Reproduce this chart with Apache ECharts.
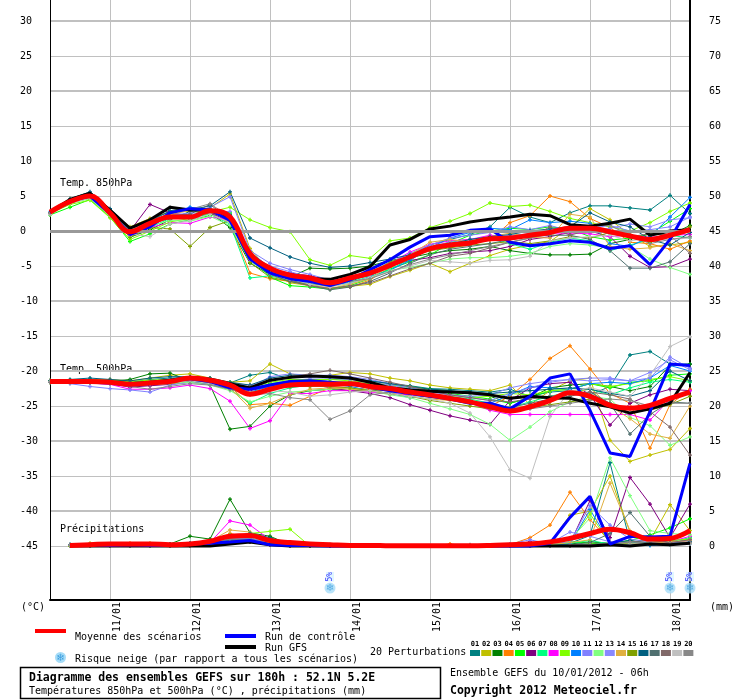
<!DOCTYPE html>
<html lang="fr">
<head>
<meta charset="UTF-8">
<title>Diagramme des ensembles GEFS</title>
<script src="https://cdn.jsdelivr.net/npm/echarts@6/dist/echarts.min.js"></script>
<style>
    html, body { margin: 0; padding: 0; background: #fff; }
    #main { width: 740px; height: 700px; }
</style>
</head>
<body>
<div id="main"></div>
<script>
    // pas de temps (6h) du run GEFS du 10/01/2012 06h
    var timeSteps = ['10/01 06h','10/01 12h','10/01 18h','11/01 00h','11/01 06h','11/01 12h','11/01 18h',
        '12/01 00h','12/01 06h','12/01 12h','12/01 18h','13/01 00h','13/01 06h','13/01 12h','13/01 18h',
        '14/01 00h','14/01 06h','14/01 12h','14/01 18h','15/01 00h','15/01 06h','15/01 12h','15/01 18h',
        '16/01 00h','16/01 06h','16/01 12h','16/01 18h','17/01 00h','17/01 06h','17/01 12h','17/01 18h',
        '18/01 00h','18/01 06h'];

    var leftTicks = [-45,-40,-35,-30,-25,-20,-15,-10,-5,0,5,10,15,20,25,30];
    var rightTicks = [0,5,10,15,20,25,30,35,40,45,50,55,60,65,70,75];
    var thinLines = [-45,-35,-25,-15,-5,5,15,25];
    var thickLines = [-40,-30,-20,-10,10,20,30];

    var memberColors = ['#008080','#c0c000','#008000','#ff8000','#00ff00','#800080','#00ff80','#ff00ff',
        '#80ff00','#0080ff','#8080ff','#80ff80','#8888ff','#e0b040','#80a000','#006080',
        '#507070','#806868','#c0c0c0','#888888'];
    var memberNames = ['01','02','03','04','05','06','07','08','09','10','11','12','13','14','15','16','17','18','19','20'];

    // température 850hPa (°C)
    var t850Mean = [2.7,4.2,5.0,2.6,-0.1,1.1,2.0,2.0,2.9,2.0,-3.2,-5.3,-6.3,-6.7,-7.4,-6.7,-6.0,-4.9,-3.7,-2.5,-2.0,-1.7,-1.1,-1.0,-0.6,-0.2,0.4,0.4,-0.1,-0.7,-1.2,-0.6,0.2];
    var t850Gfs = [2.7,4.5,5.4,3.0,0.4,1.6,3.4,3.0,3.0,1.8,-3.5,-5.5,-6.3,-6.8,-6.9,-6.2,-5.1,-2.0,-1.2,0.3,0.7,1.3,1.7,2.0,2.4,2.2,0.9,0.7,1.1,1.7,-0.6,0.0,0.2];
    var t850Control = [2.7,4.3,5.0,2.5,-0.5,0.6,2.6,3.2,3.0,1.5,-4.0,-6.0,-6.8,-7.2,-7.8,-7.0,-5.5,-4.1,-2.3,-0.8,-0.6,0.1,0.3,-1.6,-2.1,-1.8,-1.4,-1.6,-2.5,-2.1,-4.8,-1.2,3.8];
    var t850Members = [
        [2.5,4.4,5.2,3.0,0.3,1.4,2.9,3.3,3.2,2.4,-3.3,-5.4,-6.5,-7.0,-7.6,-7.2,-6.2,-4.8,-3.5,-2.0,-1.2,-0.5,0.6,3.4,2.0,1.2,2.6,3.6,3.6,3.3,3.0,5.1,2.5],
        [2.6,4.6,5.1,2.9,0.6,1.8,2.7,2.9,3.3,5.3,-2.5,-5.8,-7.4,-7.8,-8.2,-7.9,-7.6,-6.5,-5.6,-4.6,-5.8,-4.6,-3.5,-2.6,-2.0,-1.5,0.5,3.2,1.6,-0.5,-2.2,-2.0,-1.6],
        [2.4,4.0,4.8,2.3,-0.9,0.2,1.6,2.8,2.6,0.5,-4.6,-6.2,-6.6,-5.3,-5.4,-5.3,-5.0,-4.2,-3.8,-3.2,-2.8,-2.6,-2.2,-2.8,-3.2,-3.4,-3.4,-3.3,-1.8,-1.2,-0.4,-0.6,0.8],
        [2.6,4.3,4.9,2.5,0.0,0.9,2.4,2.2,2.4,1.2,-6.0,-6.8,-7.2,-7.8,-8.2,-8.0,-7.0,-5.2,-3.8,-2.6,-1.6,-1.8,-1.3,1.2,2.2,5.0,4.2,1.8,0.5,-1.6,-1.8,-2.6,-1.4],
        [2.3,3.4,4.5,2.0,-1.5,-0.4,1.0,1.6,2.2,2.6,-3.8,-6.6,-7.8,-8.0,-8.3,-7.8,-6.8,-5.4,-4.4,-3.4,-1.8,-0.6,0.0,0.4,0.2,0.6,0.3,-0.8,-1.3,-1.0,-0.4,1.4,3.2],
        [2.5,4.2,5.0,2.4,0.0,3.8,2.6,2.2,2.6,1.4,-4.2,-5.6,-6.0,-6.4,-7.0,-6.8,-6.4,-5.0,-4.2,-3.8,-3.2,-3.0,-2.8,-2.2,-1.2,-0.8,-0.2,0.0,-0.8,-3.6,-5.2,-5.1,-4.0],
        [2.4,4.0,4.7,2.6,-0.4,0.5,1.8,1.9,2.4,1.0,-6.7,-6.4,-7.1,-7.5,-7.9,-7.3,-6.5,-5.5,-4.0,-2.6,-1.5,-1.2,-0.9,-1.8,-2.6,-1.6,-1.0,-1.4,-2.8,-2.0,-1.2,-0.6,-1.0],
        [2.6,4.1,4.7,2.2,-0.6,0.5,1.2,1.1,2.0,1.6,-3.8,-5.8,-6.6,-7.2,-7.6,-7.0,-6.2,-4.6,-3.0,-1.9,-1.4,-1.2,-0.6,-0.8,-0.4,-0.3,-0.3,-0.4,-0.8,-0.6,-0.9,-0.6,-0.5],
        [2.5,3.8,4.4,1.9,-1.2,0.0,1.3,1.8,2.7,3.4,1.6,0.5,-0.1,-4.1,-4.9,-3.5,-3.9,-1.4,-1.0,0.5,1.4,2.5,4.0,3.5,3.7,2.8,1.8,1.2,0.6,0.0,1.2,2.8,4.0],
        [2.7,4.5,5.0,2.8,0.1,1.0,2.5,3.4,3.1,2.2,-3.0,-5.2,-6.4,-7.2,-7.8,-7.4,-6.6,-5.6,-4.2,-2.4,-1.0,-0.2,0.4,0.2,1.6,1.2,1.4,1.1,-1.8,-2.2,-0.8,2.0,4.8],
        [2.6,4.4,5.1,2.7,0.0,1.2,2.2,2.6,3.4,4.9,-2.8,-4.6,-5.5,-6.2,-7.0,-6.9,-6.0,-4.6,-3.2,-2.0,-1.0,-0.6,-0.2,0.6,0.2,0.8,0.0,0.4,0.8,0.0,0.2,0.6,2.0],
        [2.4,4.0,4.6,2.1,-0.8,0.7,1.5,1.4,2.1,0.8,-4.4,-6.0,-6.8,-7.4,-7.9,-7.5,-6.8,-5.6,-5.2,-4.6,-4.0,-3.8,-3.8,-3.6,-3.2,-2.2,-1.8,-2.0,-2.4,-2.2,-4.0,-5.2,-6.2],
        [2.5,4.3,4.9,2.6,-0.2,1.2,1.9,2.4,2.7,2.8,-3.6,-5.0,-5.8,-6.6,-7.2,-6.9,-6.3,-4.8,-3.4,-2.2,-1.6,-1.4,-1.0,-0.6,-0.4,0.2,0.3,0.2,0.4,1.0,0.6,1.6,1.9],
        [2.6,4.2,4.8,2.4,-0.3,1.2,2.4,2.9,2.8,1.4,-3.5,-6.2,-7.2,-7.6,-8.2,-7.6,-6.8,-5.0,-3.4,-1.6,-1.2,-1.6,-0.8,-0.3,-0.9,-1.0,2.4,2.0,-2.2,-2.6,-2.4,-1.8,-2.8],
        [2.4,4.1,4.8,2.2,-0.9,0.5,0.3,-2.2,0.5,1.5,-4.5,-6.6,-7.2,-7.6,-7.9,-7.0,-6.0,-4.4,-3.6,-2.8,-2.4,-2.0,-1.8,-1.5,-1.8,-1.4,-0.8,-1.0,-0.2,-0.6,-1.6,-0.8,0.6],
        [2.6,4.6,5.6,3.2,0.4,1.6,2.8,3.0,3.6,5.6,-1.0,-2.4,-3.7,-4.6,-5.2,-5.0,-4.5,-4.0,-3.4,-2.6,-1.9,-1.2,-0.8,-0.5,0.0,0.3,0.6,2.6,1.3,0.6,-1.2,-2.0,-0.2],
        [2.5,4.3,5.0,2.6,0.0,0.8,2.2,2.4,3.8,1.6,-4.0,-6.2,-7.2,-7.8,-8.4,-8.0,-7.2,-6.0,-4.6,-3.4,-2.6,-2.2,-1.8,-1.2,-0.8,-0.6,-0.6,-1.2,-2.8,-5.3,-5.3,-4.4,-1.8],
        [2.5,4.2,4.9,2.5,-0.1,1.0,1.8,2.1,2.6,1.8,-3.4,-5.8,-7.0,-7.8,-8.2,-7.8,-7.4,-6.4,-5.4,-4.6,-3.6,-3.2,-2.4,-1.6,-1.0,0.6,-0.6,0.2,-0.4,-0.8,-0.4,-0.6,-3.2],
        [2.4,4.0,4.7,2.3,-0.4,-0.8,1.0,1.5,2.4,1.2,-4.0,-6.0,-6.8,-7.6,-8.0,-7.4,-6.6,-5.8,-5.0,-4.2,-4.4,-4.6,-4.2,-4.1,-3.6,-1.4,-1.0,-0.8,-0.6,-1.4,-1.0,-1.2,-1.0],
        [2.6,4.5,5.2,2.9,0.2,1.4,3.4,3.1,3.9,2.0,-3.6,-5.4,-6.4,-7.0,-7.4,-7.2,-6.8,-5.8,-4.8,-4.0,-3.4,-2.8,-2.2,-1.6,-1.0,-0.4,0.2,0.8,0.8,-0.6,-1.8,-1.2,-0.8]
    ];

    // température 500hPa (°C)
    var t500Mean = [-21.5,-21.5,-21.5,-21.6,-21.9,-21.7,-21.5,-21.0,-21.3,-22.0,-23.3,-22.6,-22.0,-21.9,-21.9,-21.8,-22.2,-22.5,-23.0,-23.4,-23.9,-24.4,-25.1,-25.7,-25.1,-24.2,-23.1,-23.6,-24.9,-25.3,-24.9,-23.9,-23.0];
    var t500Gfs = [-21.5,-21.5,-21.5,-21.6,-21.8,-21.6,-21.3,-20.9,-21.2,-21.8,-22.4,-21.3,-20.9,-20.7,-20.8,-21.0,-21.6,-22.4,-22.7,-22.9,-23.0,-23.1,-23.4,-23.9,-23.6,-23.8,-23.9,-24.6,-25.1,-26.0,-25.4,-24.6,-20.2];
    var t500Control = [-21.5,-21.6,-21.6,-21.7,-22.0,-21.8,-21.4,-21.1,-21.5,-22.4,-22.6,-22.0,-21.5,-21.4,-21.6,-21.8,-22.3,-22.8,-23.2,-23.6,-24.0,-24.6,-24.6,-25.4,-23.6,-21.0,-20.4,-25.6,-31.7,-32.2,-25.8,-19.0,-19.2];
    var t500Members = [
        [-21.4,-21.3,-21.2,-21.3,-21.6,-21.2,-21.0,-20.9,-21.2,-21.7,-20.6,-20.2,-21.2,-21.4,-21.2,-21.1,-21.4,-21.8,-22.1,-22.5,-22.6,-22.8,-23.0,-22.6,-23.6,-23.0,-22.8,-23.4,-22.2,-17.7,-17.2,-19.0,-19.0],
        [-21.5,-21.6,-21.3,-21.2,-21.4,-21.0,-20.6,-20.4,-21.0,-21.6,-21.4,-19.0,-20.4,-20.8,-20.6,-20.2,-20.4,-21.0,-21.4,-22.0,-22.4,-22.6,-22.8,-22.0,-24.8,-22.8,-21.4,-21.0,-29.9,-32.9,-32.0,-31.2,-28.2],
        [-21.5,-21.4,-21.4,-21.5,-21.2,-20.4,-20.3,-21.4,-22.0,-28.3,-27.9,-25.0,-23.4,-22.8,-22.6,-22.8,-22.8,-22.6,-22.4,-22.6,-22.8,-23.2,-23.6,-24.6,-23.8,-22.4,-22.0,-21.8,-22.2,-22.8,-22.2,-19.2,-19.0],
        [-21.4,-21.4,-21.6,-21.5,-21.8,-21.6,-21.4,-21.2,-21.6,-22.2,-24.8,-24.6,-24.9,-23.6,-22.4,-22.4,-22.6,-22.8,-23.2,-23.8,-24.0,-24.4,-25.0,-23.6,-21.2,-18.2,-16.4,-19.7,-23.2,-24.6,-31.0,-24.8,-22.6],
        [-21.6,-21.5,-21.6,-21.7,-21.9,-21.8,-21.6,-21.4,-21.6,-22.2,-22.6,-21.8,-21.4,-21.4,-21.6,-21.6,-21.8,-22.0,-22.2,-22.6,-23.2,-23.6,-24.0,-24.6,-23.8,-22.8,-22.6,-21.8,-22.4,-21.6,-21.4,-20.6,-20.4],
        [-21.5,-21.6,-21.5,-21.8,-22.3,-22.1,-21.9,-21.6,-21.8,-22.4,-22.8,-22.2,-21.8,-21.8,-22.4,-22.8,-23.2,-23.8,-24.8,-25.6,-26.4,-27.0,-27.6,-24.2,-22.4,-21.8,-21.6,-23.4,-27.7,-24.6,-23.4,-22.6,-22.8],
        [-21.5,-21.4,-21.5,-21.6,-21.8,-21.6,-21.4,-21.2,-21.8,-22.6,-24.6,-23.2,-22.4,-22.0,-21.8,-22.0,-22.2,-22.6,-23.0,-23.2,-23.6,-24.0,-24.6,-25.2,-24.4,-23.6,-23.0,-22.6,-23.4,-22.4,-21.6,-21.2,-21.6],
        [-21.6,-21.6,-21.7,-21.9,-22.6,-22.6,-22.4,-22.0,-22.5,-24.3,-28.2,-27.1,-23.2,-23.2,-22.8,-22.8,-23.0,-23.2,-23.4,-23.6,-24.0,-24.6,-25.6,-26.2,-26.2,-26.2,-26.2,-26.2,-26.2,-26.2,-27.0,-24.0,-22.8],
        [-21.4,-21.3,-21.2,-21.4,-21.5,-21.3,-21.2,-21.0,-21.4,-21.6,-22.4,-21.6,-21.2,-21.2,-21.2,-21.4,-21.6,-22.0,-22.4,-22.8,-23.4,-23.8,-23.6,-23.2,-23.4,-22.8,-22.6,-21.8,-22.2,-21.8,-21.2,-20.8,-21.4],
        [-21.5,-21.6,-21.6,-21.7,-22.0,-21.9,-21.6,-21.4,-21.8,-22.6,-23.0,-22.2,-21.6,-21.6,-21.8,-22.2,-22.8,-23.2,-23.8,-23.6,-24.0,-24.4,-24.6,-23.4,-22.2,-22.4,-22.6,-21.8,-21.6,-21.8,-21.0,-19.2,-20.0],
        [-21.5,-21.8,-22.2,-22.5,-22.7,-23.0,-22.0,-21.6,-21.8,-22.4,-22.4,-20.8,-20.4,-20.6,-20.6,-20.8,-21.2,-21.8,-22.4,-22.8,-23.4,-23.8,-24.2,-23.2,-22.4,-21.6,-21.2,-21.0,-21.0,-21.4,-21.0,-18.0,-19.6],
        [-21.6,-21.6,-21.7,-21.8,-22.0,-21.9,-21.8,-21.6,-22.0,-22.8,-24.4,-23.6,-23.0,-22.8,-22.6,-22.4,-22.8,-23.4,-23.8,-24.6,-25.4,-26.2,-27.6,-29.9,-28.0,-25.8,-24.4,-23.6,-24.0,-26.6,-27.8,-30.6,-29.4],
        [-21.5,-21.5,-21.6,-21.6,-21.8,-21.6,-21.2,-21.0,-21.4,-21.8,-22.0,-21.4,-20.8,-21.0,-21.0,-21.2,-21.6,-22.0,-22.6,-23.0,-23.4,-23.6,-23.4,-22.4,-21.8,-21.4,-21.2,-21.4,-21.2,-21.4,-20.2,-18.4,-19.8],
        [-21.5,-21.4,-21.5,-21.6,-21.8,-21.6,-21.4,-21.2,-21.6,-22.4,-25.3,-24.6,-23.4,-22.6,-22.4,-22.6,-22.8,-23.2,-23.6,-24.0,-24.2,-24.6,-24.8,-25.2,-25.0,-24.4,-23.6,-22.4,-25.0,-26.8,-29.0,-29.6,-25.0],
        [-21.6,-21.6,-21.6,-21.7,-21.9,-21.8,-21.6,-21.4,-21.6,-22.2,-23.0,-22.6,-22.2,-22.2,-22.2,-22.4,-22.8,-23.2,-23.6,-24.2,-24.6,-25.0,-25.4,-25.4,-25.2,-24.8,-24.4,-24.0,-24.6,-25.4,-25.6,-24.8,-23.6],
        [-21.4,-21.2,-21.0,-21.2,-21.4,-21.0,-20.8,-20.8,-21.0,-21.6,-22.0,-21.0,-20.6,-20.6,-20.8,-21.0,-21.4,-21.8,-22.2,-22.6,-22.8,-23.0,-23.2,-23.0,-22.8,-22.6,-22.4,-22.6,-23.2,-23.6,-22.8,-20.0,-21.4],
        [-21.5,-21.5,-21.6,-21.7,-21.9,-21.8,-21.6,-21.4,-21.8,-22.6,-23.2,-22.6,-22.0,-21.8,-21.8,-22.0,-22.4,-22.8,-23.2,-23.6,-24.0,-24.4,-24.8,-25.2,-24.6,-24.0,-23.6,-23.0,-24.6,-29.0,-26.2,-24.4,-24.6],
        [-21.5,-21.5,-21.5,-21.6,-21.8,-21.6,-21.4,-21.2,-21.6,-22.0,-22.2,-21.4,-20.8,-20.4,-19.9,-20.4,-21.0,-21.6,-22.2,-22.8,-23.4,-23.8,-24.2,-24.4,-24.0,-23.6,-23.2,-23.0,-23.4,-24.0,-25.8,-28.0,-32.0],
        [-21.5,-21.6,-21.6,-21.8,-22.0,-21.8,-21.6,-21.4,-21.8,-22.4,-23.0,-22.8,-23.0,-23.6,-23.4,-23.0,-22.8,-23.2,-23.6,-24.0,-24.6,-26.0,-29.4,-34.1,-35.3,-26.5,-22.8,-22.4,-23.0,-23.6,-20.6,-16.5,-15.1],
        [-21.6,-21.6,-21.7,-21.8,-22.2,-22.6,-22.2,-21.8,-22.0,-22.6,-23.4,-23.2,-23.8,-24.1,-26.9,-25.7,-23.4,-23.0,-23.2,-23.6,-24.0,-24.6,-25.0,-25.2,-25.4,-25.0,-24.6,-24.2,-24.0,-24.2,-25.0,-24.6,-24.6]
    ];

    // précipitations (mm / 6h), échelle de droite
    var precipMean = [null,0.1,0.2,0.3,0.3,0.3,0.2,0.3,0.7,1.4,1.5,0.8,0.5,0.3,0.2,0.1,0.1,0.05,0.05,0.05,0.05,0.05,0.1,0.2,0.3,0.6,1.1,1.8,2.4,1.9,1.0,1.1,2.2];
    var precipGfs = [null,0,0,0,0,0,0,0,0,0.3,0.6,0.2,0,0,0,0,0,0,0,0,0,0,0,0,0,0,0,0,0.2,0,0.3,0.2,0.4];
    var precipControl = [null,0.2,0.2,0.1,0.2,0.1,0.1,0.3,0.4,0.6,0.8,0.2,0.1,0.1,0,0,0,0,0,0,0,0,0,0,0,0.4,4.1,7.1,0.3,1.4,1.3,1.4,11.8];
    var precipMembers = [
        [null,0.2,0.3,0.2,0.1,0.2,0.3,0.4,0.5,0.8,1.0,0.6,0.2,0.1,0,0,0,0,0,0,0,0,0,0,0,0,0.4,1.5,11.9,0.6,0.2,0.8,0.4],
        [null,0.1,0.4,0.3,0.2,0.4,0.2,0.3,0.2,1.0,0.9,0.3,0.1,0,0,0,0,0,0,0,0,0.1,0,0,0.2,0.5,4.4,5.0,10.0,2.0,0.8,5.9,2.2],
        [null,0.1,0.2,0.3,0.2,0.3,0.3,1.4,1.0,6.7,1.9,1.4,0.2,0,0,0,0,0,0,0,0,0,0,0,0,0.1,0.3,0.6,0.4,0.8,0.2,0.4,1.0],
        [null,0.2,0.2,0.3,0.4,0.3,0.2,0.3,0.6,1.8,1.2,0.4,0.1,0,0,0,0,0,0,0,0.3,0,0.1,0.2,1.2,3.0,7.7,3.8,0.6,0.2,0.3,0.4,0.8],
        [null,0,0,0,0.1,0.1,0,0,0.2,0.6,0.8,0.4,0.3,0.1,0,0,0,0,0,0,0,0,0,0,0,0.2,0.6,0.4,0.3,0.8,1.6,2.6,3.9],
        [null,0.1,0.1,0,0.1,0.2,0.1,0.2,0.3,0.9,0.6,0.2,0.1,0,0,0,0,0,0,0,0,0,0,0.2,0.6,0.2,0.4,6.5,1.2,9.8,6.0,1.2,6.0],
        [null,0.1,0.2,0.2,0.1,0.2,0.2,0.3,0.6,1.6,1.4,0.5,0.2,0,0,0,0,0,0,0,0,0,0,0,0,0.2,0.4,0.8,0.3,0.5,1.0,0.6,1.2],
        [null,0,0,0,0.1,0,0,0,0.5,3.6,3.0,0.9,0.1,0,0,0,0,0,0,0,0,0,0,0,0,0,0.1,0.2,0.3,0.2,0.4,0.6,1.4],
        [null,0,0.1,0.1,0.1,0.2,0.1,0.1,0.3,1.2,1.8,2.1,2.4,0,0,0,0,0,0,0,0,0,0,0,0,0.3,0.6,4.6,0.4,0.2,0.6,0.8,1.0],
        [null,0.2,0.2,0.2,0.2,0.2,0.1,0.2,0.4,0.9,1.1,0.4,0.1,0,0,0,0,0,0,0,0,0,0,0,0,0,0.3,5.2,0.5,0.2,0.1,0.2,0.3],
        [null,0.1,0.1,0.1,0.1,0.2,0.2,0.2,0.5,1.2,1.0,0.3,0.1,0,0,0,0,0,0,0,0,0,0,0.3,0.9,0.3,0.6,5.8,3.0,1.0,0.6,0.4,0.9],
        [null,0,0.1,0.1,0,0.1,0.1,0.2,0.4,1.1,1.3,0.5,0.2,0,0,0,0,0,0,0,0,0,0,0,0,0.3,0.9,4.0,12.6,7.2,2.2,1.8,1.6],
        [null,0.1,0.1,0.2,0.1,0.1,0.1,0.2,0.4,1.0,1.2,0.3,0.1,0,0,0,0,0,0,0,0,0,0,0,0.3,0.4,2.0,1.4,0.6,0.4,0.3,0.5,0.6],
        [null,0.1,0.3,0.2,0.2,0.3,0.2,0.3,0.7,2.3,2.0,0.4,0.1,0,0,0,0,0,0,0,0,0,0,0,0,0.2,0.5,0.9,9.0,2.2,0.4,0.6,0.8],
        [null,0,0.1,0.1,0.1,0.1,0.1,0.2,0.3,0.8,0.7,0.2,0.1,0,0,0,0,0,0,0,0,0,0,0,0,0,0.1,0.3,0.2,0.4,0.3,0.2,0.4],
        [null,0.2,0.2,0.2,0.2,0.3,0.3,0.4,0.8,1.4,1.8,1.2,0.3,0.1,0,0,0,0,0,0,0,0,0,0,0,0,0.1,0.2,0.4,0.8,0.4,0.2,0.6],
        [null,0.1,0.1,0.1,0.1,0.1,0.1,0.2,0.4,1.0,0.9,0.3,0.1,0,0,0,0,0,0,0,0,0,0,0,0,0,0.2,0.5,1.8,4.8,1.4,0.4,0.5],
        [null,0.1,0.1,0.1,0.1,0.2,0.1,0.1,0.3,0.7,0.8,0.2,0.1,0,0,0,0,0,0,0,0,0,0,0,0,0,0.1,0.2,0.3,0.6,0.8,0.5,0.9],
        [null,0.1,0.1,0.1,0.1,0.1,0.1,0.1,0.2,0.6,0.8,0.4,0.3,0.2,0.2,0,0,0,0,0,0,0,0,0,0,0,0.1,0.1,0.2,0.3,0.4,0.2,0.3],
        [null,0.1,0.2,0.2,0.2,0.2,0.2,0.2,0.5,1.0,1.0,0.4,0.4,0.3,0.2,0.1,0,0,0,0,0,0.2,0.1,0,0,0,0.1,0.2,0.4,0.6,0.4,0.3,0.5]
    ];

    // risque neige (%) par pas de temps
    var snowRisk = [null,null,null,null,null,null,null,null,null,null,null,null,null,null,5,null,null,null,null,null,null,null,null,null,null,null,null,null,null,null,null,5,5];
    var snowRow = -51; // ligne des icônes, en °C sur l'axe de gauche

    var MONO = '"DejaVu Sans Mono", monospace';
    var PLUS = 'path://M1,0H2V1H3V2H2V3H1V2H0V1H1Z';
    var atMidnight = function (idx) { return idx % 4 === 3; };

    function memberLine(data, color, axis) {
        return {
            type: 'line', data: data, yAxisIndex: axis,
            symbol: PLUS, symbolSize: 4, showSymbol: true,
            lineStyle: { width: 1, color: color },
            itemStyle: { color: color },
            z: 2, silent: true
        };
    }
    function mainLine(data, color, width, axis, smooth, z) {
        return {
            type: 'line', data: data, yAxisIndex: axis, symbol: 'none',
            smooth: smooth, lineStyle: { width: width, color: color },
            z: z, silent: true
        };
    }

    var series = [];
    memberColors.forEach(function (c, k) {
        series.push(memberLine(t850Members[k], c, 0));
        series.push(memberLine(t500Members[k], c, 0));
        series.push(memberLine(precipMembers[k], c, 1));
    });
    [[t850Gfs, t850Control, t850Mean, 0], [t500Gfs, t500Control, t500Mean, 0],
     [precipGfs, precipControl, precipMean, 1]].forEach(function (g) {
        series.push(mainLine(g[0], '#000000', 3, g[3], false, 3));
        series.push(mainLine(g[1], '#0000ff', 3, g[3], false, 4));
        series.push(mainLine(g[2], '#ff0000', 5, g[3], 0.4, 5));
    });
    // ligne du zéro à 850hPa
    series[series.length - 7].markLine = {
        silent: true, symbol: 'none', label: { show: false },
        lineStyle: { color: '#999999', width: 3, type: 'solid' },
        data: [{ yAxis: 0 }]
    };

    var snowData = [];
    snowRisk.forEach(function (v, i) { if (v !== null) snowData.push([i, snowRow, v]); });
    series.push({
        type: 'scatter', data: snowData, yAxisIndex: 0, clip: false, z: 6, silent: true,
        symbol: 'circle', symbolSize: 11,
        itemStyle: { color: '#a6dcf7' },
        label: {
            show: true, position: 'inside', formatter: '\u2744',
            fontFamily: '"DejaVu Sans"', fontSize: 10, color: '#3d9fe0'
        }
    });
    series.push({
        type: 'scatter', data: snowData, yAxisIndex: 0, clip: false, z: 6, silent: true,
        symbol: 'circle', symbolSize: 11, itemStyle: { color: 'rgba(0,0,0,0)' },
        label: {
            show: true, position: 'top', distance: 1, rotate: 90,
            align: 'left', verticalAlign: 'middle',
            formatter: function (p) { return p.value[2] + '%'; },
            fontFamily: MONO, fontSize: 8, color: '#0000ff', backgroundColor: '#d8f3ff'
        }
    });

    var graphics = [
        { type: 'text', x: 60, y: 183, style: { text: 'Temp. 850hPa', font: '10px ' + MONO, fill: '#000', textVerticalAlign: 'middle' } },
        { type: 'text', x: 60, y: 369, style: { text: 'Temp. 500hPa', font: '10px ' + MONO, fill: '#000', textVerticalAlign: 'middle' } },
        { type: 'text', x: 60, y: 529, style: { text: 'Précipitations', font: '10px ' + MONO, fill: '#000', textVerticalAlign: 'middle' } },
        { type: 'text', x: 21, y: 607, style: { text: '(°C)', font: '10px ' + MONO, fill: '#000', textVerticalAlign: 'middle' } },
        { type: 'text', x: 710, y: 607, style: { text: '(mm)', font: '10px ' + MONO, fill: '#000', textVerticalAlign: 'middle' } },

        { type: 'rect', shape: { x: 35, y: 629, width: 31, height: 4 }, style: { fill: '#ff0000' } },
        { type: 'text', x: 75, y: 637, style: { text: 'Moyenne des scénarios', font: '10px ' + MONO, fill: '#000', textVerticalAlign: 'middle' } },
        { type: 'rect', shape: { x: 225, y: 634, width: 31, height: 4 }, style: { fill: '#0000ff' } },
        { type: 'text', x: 265, y: 637, style: { text: 'Run de contrôle', font: '10px ' + MONO, fill: '#000', textVerticalAlign: 'middle' } },
        { type: 'rect', shape: { x: 225, y: 645, width: 31, height: 4 }, style: { fill: '#000000' } },
        { type: 'text', x: 265, y: 648, style: { text: 'Run GFS', font: '10px ' + MONO, fill: '#000', textVerticalAlign: 'middle' } },
        { type: 'circle', shape: { cx: 60.5, cy: 657.5, r: 5.5 }, style: { fill: '#a6dcf7' } },
        { type: 'text', x: 60.5, y: 658, style: { text: '\u2744', font: '10px "DejaVu Sans"', fill: '#3d9fe0', textAlign: 'center', textVerticalAlign: 'middle' } },
        { type: 'text', x: 75, y: 659, style: { text: 'Risque neige (par rapport a tous les scénarios)', font: '10px ' + MONO, fill: '#000', textVerticalAlign: 'middle' } },
        { type: 'text', x: 370, y: 652, style: { text: '20 Perturbations', font: '10px ' + MONO, fill: '#000', textVerticalAlign: 'middle' } },

        { type: 'rect', shape: { x: 20.5, y: 667.5, width: 420, height: 31 }, style: { fill: 'none', stroke: '#000', lineWidth: 1.5 } },
        { type: 'text', x: 29, y: 678, style: { text: 'Diagramme des ensembles GEFS sur 180h : 52.1N 5.2E', font: 'bold 11.5px ' + MONO, fill: '#000', textVerticalAlign: 'middle' } },
        { type: 'text', x: 29, y: 691, style: { text: 'Températures 850hPa et 500hPa (°C) , précipitations (mm)', font: '10px ' + MONO, fill: '#000', textVerticalAlign: 'middle' } },
        { type: 'text', x: 450, y: 673, style: { text: 'Ensemble GEFS du 10/01/2012 - 06h', font: '10px ' + MONO, fill: '#000', textVerticalAlign: 'middle' } },
        { type: 'text', x: 450, y: 691, style: { text: 'Copyright 2012 Meteociel.fr', font: 'bold 11.5px ' + MONO, fill: '#000', textVerticalAlign: 'middle' } }
    ];
    memberColors.forEach(function (c, k) {
        var x0 = 470 + k * 11.23;
        graphics.push({ type: 'rect', shape: { x: x0, y: 650, width: 10, height: 6 }, style: { fill: c } });
        graphics.push({ type: 'text', x: x0 + 5, y: 644, style: { text: memberNames[k], font: 'bold 7px ' + MONO, fill: '#000', textAlign: 'center', textVerticalAlign: 'middle' } });
    });

    echarts.init(document.getElementById('main')).setOption({
        animation: false,
        backgroundColor: '#ffffff',
        grid: { left: 50, right: 50, top: 0, bottom: 100, containLabel: false },
        xAxis: {
            type: 'category', data: timeSteps, boundaryGap: false,
            axisLine: { show: true, onZero: false, lineStyle: { color: '#000', width: 2 } },
            axisTick: { show: false },
            axisLabel: {
                interval: atMidnight, rotate: 90, margin: 2,
                align: 'right', verticalAlign: 'top', lineHeight: 14,
                formatter: function (v) { return v.slice(0, 5); },
                fontFamily: MONO, fontSize: 10, color: '#000'
            },
            splitLine: { show: true, interval: atMidnight, lineStyle: { color: '#c0c0c0', width: 1 } }
        },
        yAxis: [
            {
                type: 'value', min: -52.7, max: 33, position: 'left',
                axisLine: { show: true, lineStyle: { color: '#000', width: 1 } },
                axisTick: { show: false, customValues: thinLines },
                axisLabel: { customValues: leftTicks, align: 'left', margin: 30, fontFamily: MONO, fontSize: 10, color: '#000' },
                splitLine: { show: true, lineStyle: { color: '#c0c0c0', width: 1 } }
            },
            {
                type: 'value', min: -7.7, max: 78, position: 'right',
                axisLine: { show: true, lineStyle: { color: '#000', width: 2 } },
                axisTick: { show: false },
                axisLabel: { customValues: rightTicks, margin: 19, fontFamily: MONO, fontSize: 10, color: '#000' },
                splitLine: { show: false }
            },
            {
                type: 'value', min: -52.7, max: 33, position: 'left',
                axisLine: { show: false }, axisLabel: { show: false },
                axisTick: { show: false, customValues: thickLines },
                splitLine: { show: true, lineStyle: { color: '#c0c0c0', width: 2 } }
            }
        ],
        graphic: { elements: graphics },
        series: series
    });
</script>
</body>
</html>
